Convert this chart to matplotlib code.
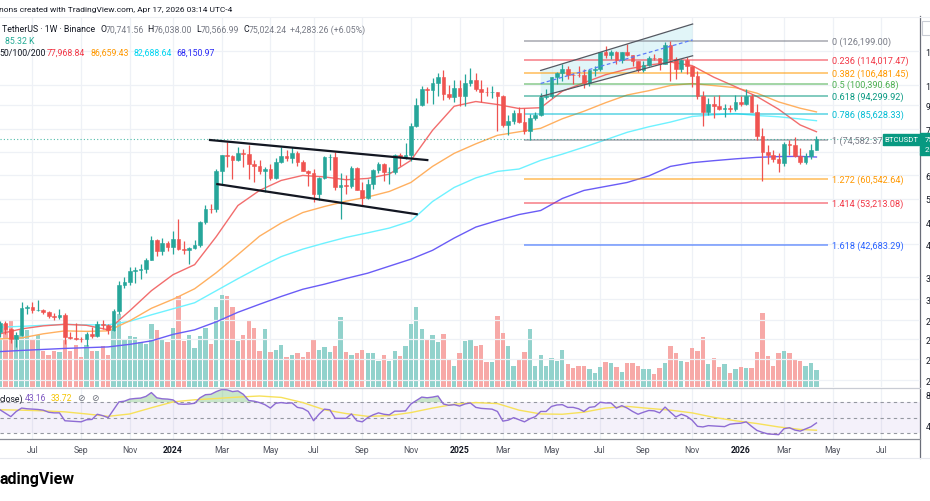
import numpy as np
import pandas as pd
import matplotlib
matplotlib.use("Agg")
import matplotlib.pyplot as plt
from matplotlib.patches import Rectangle, Polygon
from matplotlib.lines import Line2D
from matplotlib.ticker import FixedLocator, NullLocator

plt.rcParams['font.family'] = ['Roboto', 'DejaVu Sans']

# ---------------- data (weekly BTCUSDT, prices in thousand USD) ----------------
FIRST_BAR = "2023-05-22"
REF_WEEK = "2024-01-01"

opens = [26.85, 28.08, 27.23, 25.84, 26.34, 30.46, 30.58, 30.16, 30.23, 29.85,
         29.23, 29.05, 29.40, 26.10, 26.00, 25.84, 25.83, 26.53, 26.25, 27.97,
         27.92, 27.15, 29.99, 34.50, 35.00, 37.06, 37.36, 37.45, 39.47, 43.79,
         41.37, 43.02, 42.28, 43.95, 41.73, 41.58, 42.03, 42.58, 48.30, 51.66,
         51.56, 63.11, 68.96, 68.39, 67.21, 69.65, 69.36, 65.74, 64.94, 63.12,
         63.90, 60.80, 66.27, 68.50, 67.76, 69.65, 66.20, 63.25, 62.70, 55.86,
         60.79, 68.16, 68.25, 58.16, 58.70, 58.43, 64.20, 57.30, 54.85, 59.15,
         63.60, 65.60, 62.85, 62.87, 69.00, 68.00, 68.78, 80.37, 89.85, 97.90,
         97.20, 101.10, 104.46, 95.20, 93.70, 98.30, 94.50, 101.30, 102.60, 97.70,
         96.46, 96.10, 96.25, 94.27, 80.70, 82.60, 86.10, 82.30, 78.35, 83.70,
         85.10, 93.70, 94.30, 104.10, 106.45, 109.00, 105.70, 105.60, 105.55, 100.95,
         108.35, 109.20, 119.05, 117.30, 119.45, 114.20, 119.30, 117.40, 113.50, 108.25,
         111.15, 115.30, 115.25, 112.10, 123.50, 115.17, 108.64, 114.57, 110.54, 104.72,
         94.24, 86.83, 90.39, 89.40, 88.20, 88.60, 87.80, 91.20, 90.60, 94.20,
         86.80, 76.40, 70.10, 68.80, 67.60, 65.90, 73.00, 72.60, 68.60, 66.30,
         68.70, 70.74]
highs = [28.45, 28.45, 27.40, 26.80, 31.43, 31.00, 31.50, 31.80, 30.40, 29.95,
         29.75, 30.25, 29.70, 26.80, 28.14, 26.10, 26.85, 27.48, 28.50, 28.60,
         28.00, 30.40, 35.20, 35.98, 37.98, 38.00, 38.45, 39.70, 44.70, 44.00,
         44.30, 43.60, 45.88, 48.97, 43.58, 42.20, 43.88, 48.59, 52.82, 52.99,
         63.91, 69.00, 73.78, 68.92, 71.77, 71.30, 72.80, 67.20, 67.25, 64.73,
         65.50, 67.70, 71.98, 70.60, 71.99, 70.20, 67.20, 63.50, 63.85, 61.40,
         68.40, 69.40, 70.08, 62.75, 61.80, 65.00, 64.50, 59.80, 60.65, 64.10,
         66.50, 66.00, 64.48, 69.40, 69.50, 73.60, 81.50, 93.40, 99.60, 98.80,
         104.00, 106.50, 108.35, 99.95, 102.70, 102.50, 106.00, 109.60, 106.50, 102.50,
         99.00, 99.50, 96.50, 95.00, 85.30, 87.45, 88.77, 88.50, 85.90, 86.45,
         95.80, 97.90, 104.30, 107.10, 111.98, 110.70, 106.80, 110.60, 108.90, 108.50,
         110.50, 119.50, 123.20, 120.25, 119.80, 119.40, 124.50, 117.60, 113.60, 113.40,
         116.80, 117.90, 115.40, 125.70, 126.20, 115.97, 114.70, 116.40, 110.80, 107.50,
         96.65, 93.10, 94.15, 94.60, 90.40, 90.00, 94.80, 94.50, 97.90, 95.50,
         90.50, 79.40, 72.50, 70.90, 69.50, 74.00, 74.50, 76.00, 71.50, 69.50,
         73.00, 76.04]
lows = [26.10, 26.50, 25.35, 24.80, 26.25, 29.50, 29.70, 29.95, 29.50, 28.90,
        28.58, 28.75, 25.16, 25.80, 25.70, 25.38, 24.90, 26.00, 26.10, 27.20,
        26.50, 26.90, 29.60, 34.00, 34.50, 34.80, 35.63, 36.70, 39.30, 40.20,
        40.50, 41.30, 40.75, 41.50, 40.60, 38.55, 41.80, 42.26, 47.71, 50.52,
        50.90, 59.00, 64.53, 60.76, 66.80, 64.50, 60.66, 59.60, 62.40, 56.55,
        60.20, 60.60, 66.10, 66.60, 66.00, 65.08, 63.10, 58.40, 53.50, 54.25,
        60.65, 63.45, 57.12, 49.00, 56.10, 57.80, 57.20, 52.55, 54.60, 57.50,
        62.70, 59.83, 58.90, 62.40, 65.08, 67.45, 66.80, 80.00, 89.40, 90.80,
        90.50, 94.10, 92.20, 92.80, 91.20, 89.30, 89.25, 99.50, 97.00, 91.20,
        94.10, 93.40, 78.30, 80.00, 76.60, 81.10, 81.60, 77.10, 74.50, 83.10,
        85.00, 92.80, 93.40, 100.70, 102.00, 103.10, 100.40, 104.10, 98.20, 99.60,
        105.15, 107.50, 115.70, 114.70, 111.90, 112.65, 116.80, 110.60, 107.30, 107.25,
        110.60, 114.40, 108.60, 111.60, 102.00, 103.53, 106.95, 106.30, 98.95, 93.00,
        80.60, 85.30, 83.82, 87.60, 84.50, 86.60, 87.00, 89.30, 89.80, 86.50,
        74.50, 60.10, 65.80, 66.50, 62.90, 65.00, 69.00, 68.00, 65.70, 65.50,
        67.50, 70.57]
closes = [28.08, 27.23, 25.84, 26.34, 30.46, 30.58, 30.16, 30.23, 29.85, 29.23,
          29.05, 29.40, 26.10, 26.00, 25.84, 25.83, 26.53, 26.25, 27.97, 27.92,
          27.15, 29.99, 34.50, 35.00, 37.06, 37.36, 37.45, 39.47, 43.79, 41.37,
          43.02, 42.28, 43.95, 41.73, 41.58, 42.03, 42.58, 48.30, 51.66, 51.56,
          63.11, 68.96, 68.39, 67.21, 69.65, 69.36, 65.74, 64.94, 63.12, 63.90,
          60.80, 66.27, 68.50, 67.76, 69.65, 66.20, 63.25, 62.70, 55.86, 60.79,
          68.16, 68.25, 58.16, 58.70, 58.43, 64.20, 57.30, 54.85, 59.15, 63.60,
          65.60, 62.85, 62.87, 69.00, 68.00, 68.78, 80.37, 89.85, 97.90, 97.20,
          101.10, 104.46, 95.20, 93.70, 98.30, 94.50, 101.30, 102.60, 97.70, 96.46,
          96.10, 96.25, 94.27, 80.70, 82.60, 86.10, 82.30, 78.35, 83.70, 85.10,
          93.70, 94.30, 104.10, 106.45, 109.00, 105.70, 105.60, 105.55, 100.95, 108.35,
          109.20, 119.05, 117.30, 119.45, 114.20, 119.30, 117.40, 113.50, 108.25, 111.15,
          115.30, 115.25, 112.10, 123.50, 115.17, 108.64, 114.57, 110.54, 104.72, 94.24,
          86.83, 90.39, 89.40, 88.20, 88.60, 87.80, 91.20, 90.60, 94.20, 86.80,
          76.40, 70.10, 68.80, 67.60, 65.90, 73.00, 72.60, 68.60, 66.30, 68.70,
          70.74, 75.02]
volumes_k = [231, 304, 323, 251, 275, 275, 231, 255, 174, 159,
             178, 169, 227, 178, 207, 149, 207, 178, 178, 202,
             159, 275, 352, 231, 246, 241, 217, 212, 308, 275,
             231, 217, 289, 439, 222, 255, 188, 246, 289, 212,
             390, 448, 443, 386, 222, 255, 323, 289, 174, 280,
             169, 183, 207, 149, 159, 164, 149, 169, 236, 183,
             193, 169, 202, 342, 169, 159, 164, 183, 164, 164,
             130, 159, 130, 174, 154, 198, 304, 386, 284, 227,
             251, 217, 260, 135, 106, 164, 222, 236, 202, 207,
             121, 125, 347, 265, 198, 106, 135, 169, 280, 106,
             159, 106, 140, 130, 183, 111, 92, 106, 106, 87,
             72, 101, 125, 116, 101, 77, 116, 116, 106, 87,
             87, 67, 92, 116, 202, 164, 130, 121, 188, 178,
             241, 111, 140, 101, 111, 72, 87, 101, 96, 96,
             169, 357, 154, 106, 164, 174, 164, 135, 130, 106,
             116, 85.32]
rsi = [60.2, 55.7, 51.3, 58.0, 62.4, 61.5, 61.0, 60.6, 59.7, 57.0,
       56.2, 56.2, 46.0, 45.5, 45.0, 44.6, 47.3, 47.7, 54.4, 52.6,
       50.0, 60.2, 70.4, 71.3, 74.0, 74.8, 75.3, 77.5, 82.4, 75.7,
       74.4, 74.0, 73.0, 67.7, 67.3, 67.7, 68.6, 75.7, 79.7, 80.2,
       83.7, 86.4, 86.0, 83.7, 84.6, 80.2, 72.2, 71.3, 69.5, 66.8,
       62.4, 68.6, 69.5, 68.6, 69.1, 63.3, 62.0, 58.0, 46.0, 54.4,
       61.0, 60.2, 49.1, 49.1, 49.1, 54.8, 46.0, 44.6, 50.0, 53.6,
       56.2, 54.4, 53.6, 58.4, 58.4, 58.8, 67.7, 72.2, 76.6, 75.7,
       76.6, 78.0, 67.7, 66.0, 66.8, 65.0, 67.7, 69.0, 63.3, 62.0,
       61.5, 61.0, 58.0, 45.5, 46.8, 50.0, 47.3, 44.6, 48.6, 51.3,
       58.0, 58.0, 64.5, 66.4, 66.8, 63.3, 63.3, 61.5, 58.0, 63.3,
       64.2, 70.0, 69.0, 69.0, 62.4, 65.5, 62.4, 58.0, 54.4, 57.0,
       59.3, 58.8, 56.2, 63.7, 57.0, 50.9, 54.4, 51.8, 46.8, 38.8,
       38.0, 39.7, 39.3, 38.8, 38.4, 41.5, 42.4, 42.8, 44.6, 38.8,
       33.5, 31.0, 29.0, 28.5, 28.0, 35.7, 37.0, 34.0, 32.6, 35.5,
       38.3, 43.16]

# moving averages / RSI-MA, read every 4th bar (+ last bar)
ma_bars = list(range(0, 152, 4)) + [151]
ma20 = [26.57, 27.28, 27.72, 27.95, 27.80, 27.14, 30.04, 33.43, 36.41, 38.41,
        44.60, 52.63, 57.03, 60.15, 61.79, 61.29, 60.38, 60.80, 62.22, 66.94,
        78.57, 89.32, 91.59, 90.14, 88.23, 88.61, 96.77, 101.23, 105.64, 108.84,
        111.20, 112.99, 110.91, 104.29, 99.13, 94.07, 87.90, 80.83, 77.97]
ma50 = [25.86, 26.00, 26.57, 26.99, 26.92, 26.99, 28.48, 30.44, 31.94, 33.78,
        36.80, 40.51, 44.70, 47.94, 50.70, 52.35, 53.86, 55.08, 56.72, 59.51,
        64.83, 69.49, 73.10, 76.50, 77.95, 79.42, 83.55, 86.97, 91.01, 94.83,
        97.03, 99.77, 100.79, 99.72, 98.60, 95.75, 91.40, 88.37, 86.66]
ma100 = [27.53, 27.65, 27.80, 27.95, 27.87, 27.87, 28.40, 29.40, 30.36, 31.35,
         33.43, 35.64, 37.90, 40.08, 41.72, 43.08, 44.41, 45.50, 46.67, 48.45,
         53.77, 57.95, 60.96, 63.12, 63.93, 66.94, 69.20, 71.83, 74.69, 77.74,
         80.06, 82.09, 84.58, 85.35, 85.90, 84.99, 84.45, 83.46, 82.69]
ma200 = [24.17, 24.32, 24.45, 24.58, 24.68, 24.78, 25.12, 25.59, 26.49, 27.14,
         28.32, 29.80, 31.10, 32.42, 33.69, 34.61, 35.68, 36.70, 38.10, 39.55,
         41.46, 44.25, 46.92, 48.58, 50.16, 51.25, 54.64, 57.03, 58.26, 59.51,
         61.62, 64.83, 66.12, 66.83, 67.48, 68.02, 68.31, 68.38, 68.15]
rsi_ma = [60.2, 59.7, 58.8, 57.5, 54.8, 51.7, 54.8, 62.8, 70.4, 73.1,
          74.8, 76.6, 78.0, 76.2, 69.5, 60.2, 55.3, 51.7, 52.6, 56.6,
          62.4, 67.3, 69.5, 68.2, 59.7, 54.8, 54.4, 57.1, 62.4, 64.6,
          62.0, 59.7, 56.2, 50.4, 46.0, 42.4, 38.0, 34.8, 33.72]

fib_ratios = ["0", "0.236", "0.382", "0.5", "0.618", "0.786", "1", "1.272", "1.414", "1.618"]
fib_prices = [126199.00, 114017.47, 106481.45, 100390.68, 94299.92, 85628.33,
              74582.37, 60542.64, 53213.08, 42683.29]
fib_colors = ["#787B86", "#F23645", "#FF9800", "#4CAF50", "#089981", "#00BCD4",
              "#787B86", "#FF9800", "#F23645", "#2962FF"]

# price scale grid; the 70,000 label sits behind the last-price box
price_ticks = [120000, 100000, 90000, 79000, 70000, 62000, 54600, 48200, 42900,
               36000, 32000, 28600, 25800, 23200, 20800]
hidden_tick_labels = [70000]

# ---------------- layout helpers ----------------
W, H = 930, 502
fig = plt.figure(figsize=(9.3, 5.02), dpi=100)
fig.patch.set_facecolor("white")


def fy(y):
    return 1 - y / H


def T(x, y, s, **kw):
    kw.setdefault("va", "center")
    kw.setdefault("ha", "left")
    return fig.text(x / W, fy(y), s, **kw)


def hline_px(y, x0, x1, color, lw=0.8):
    fig.add_artist(Line2D([x0 / W, x1 / W], [fy(y), fy(y)], color=color, lw=lw))


PANE_R = 919.5
ax_top, ax_bot, rsi_bot = 19.0, 388.5, 440.0
ax = fig.add_axes([0, fy(ax_bot), PANE_R / W, fy(ax_top) - fy(ax_bot)])
axv = ax.twinx()
axr = fig.add_axes([0, fy(rsi_bot), PANE_R / W, fy(ax_bot) - fy(rsi_bot)], sharex=ax)

ax.set_zorder(2)
axv.set_zorder(1)
ax.patch.set_visible(False)

n = len(closes)
dates = pd.date_range(FIRST_BAR, periods=n, freq="7D")
wk = ((dates - pd.Timestamp(REF_WEEK)).days // 7).to_numpy()
o, h, l, c = (np.array(v) for v in (opens, highs, lows, closes))
up = c >= o
UP, DN = "#26A69A", "#EF5350"
cols = np.where(up, UP, DN)

# time ticks: first weekly bar of every odd month
ext = pd.date_range(FIRST_BAR, "2026-08-31", freq="7D")
tick_w, tick_lab, tick_bold = [], [], []
for d in ext:
    if d.month % 2 == 1 and d.day <= 7:
        tick_w.append((d - pd.Timestamp(REF_WEEK)).days // 7)
        tick_lab.append(str(d.year) if d.month == 1 else d.strftime("%b"))
        tick_bold.append(d.month == 1)

XMIN, XMAX = -32.0, 138.06
ax.set_xlim(XMIN, XMAX)

GRID = "#EEF1F6"
for a in (axv, axr):
    for t in tick_w:
        a.axvline(t, color=GRID, lw=0.9, zorder=0)

# ---------------- volume ----------------
axv.bar(wk, volumes_k, width=0.8, color=np.where(up, "#92D2CC", "#F7A9A7"), linewidth=0, zorder=1)
axv.set_ylim(0, (ax_bot - ax_top) * 4.82)
axv.axis("off")

# ---------------- price pane ----------------
ax.set_yscale("log")
ax.set_ylim(19.961, 142.92)
for p in price_ticks:
    ax.axhline(p / 1000, color=GRID, lw=0.9, zorder=0)

# moving averages
ma_x = wk[ma_bars]
ax.plot(ma_x, ma200, color="#6A5CF6", lw=1.0, zorder=2)
ax.plot(ma_x, ma100, color="#6EF2FF", lw=1.0, zorder=2)
ax.plot(ma_x, ma50, color="#FFB060", lw=1.0, zorder=2)
ax.plot(ma_x, ma20, color="#F26D6D", lw=1.0, zorder=2)

# fib retracement
fib_x0, fib_x1 = 64.9, 121.1
for r, p, col in zip(fib_ratios, fib_prices, fib_colors):
    ax.hlines(p / 1000, fib_x0, fib_x1, colors=col, lw=1.2, alpha=0.6, zorder=2)
    ax.text(121.9, p / 1000, f"{r} ({p:,.2f})", color=col, fontsize=6.6, va="center", ha="left", zorder=6)

# rising channel 2025 (drawing)
ch_x = [68.0, 96.1]
ch_up = [108.09, 138.41]
ch_lo = [94.07, 116.86]
ch_mid = [100.83, 127.18]
ax.add_patch(Polygon([(ch_x[0], ch_lo[0]), (ch_x[0], ch_up[0]), (ch_x[1], ch_up[1]), (ch_x[1], ch_lo[1])],
                     closed=True, facecolor="#BEEBF0", alpha=0.45, edgecolor="none", zorder=1))
ax.plot(ch_x, ch_up, color="#555861", lw=0.9, zorder=5)
ax.plot(ch_x, ch_lo, color="#555861", lw=0.9, zorder=5)
ax.plot(ch_x, ch_mid, color="#5B7CFA", lw=0.9, ls=(0, (3, 2)), zorder=5)

# descending channel 2024 (drawing)
ax.plot([6.84, 47.03], [74.61, 67.05], color="#131722", lw=1.6, zorder=5)
ax.plot([8.19, 45.07], [58.99, 50.25], color="#131722", lw=1.6, zorder=5)

# current price line
ax.axhline(c[-1], color="#22AB94", lw=0.8, ls=(0, (1, 2)), alpha=0.8, zorder=2)

# candles
ax.vlines(wk, l, h, colors=cols, lw=0.9, zorder=3)
ax.bar(wk, np.maximum(o, c) - np.minimum(o, c), bottom=np.minimum(o, c), width=0.68,
       color=cols, edgecolor=cols, linewidth=0.4, zorder=4)

ax.yaxis.set_major_locator(FixedLocator([p / 1000 for p in price_ticks]))
ax.yaxis.set_minor_locator(NullLocator())
ax.set_yticklabels(["" if p in hidden_tick_labels else f"{p:,.2f}" for p in price_ticks])
ax.yaxis.tick_right()
ax.tick_params(axis="y", length=0, pad=4.3, labelsize=6.3, labelcolor="#131722")
ax.tick_params(axis="x", length=0, labelbottom=False)
for s in ax.spines.values():
    s.set_visible(False)

# ---------------- RSI pane ----------------
rs = np.array(rsi)
axr.set_ylim(22.4, 89.0)
axr.axhspan(30, 70, color="#7E57C2", alpha=0.08, lw=0, zorder=0)
for lev in (70, 50, 30):
    axr.axhline(lev, color="#9598A1", lw=0.8, ls=(0, (3, 3)), zorder=1)
axr.fill_between(wk, 70, rs, where=rs > 70, interpolate=True, color="#4CAF50", alpha=0.3, lw=0, zorder=2)
axr.fill_between(wk, 30, rs, where=rs < 30, interpolate=True, color="#F44336", alpha=0.25, lw=0, zorder=2)
axr.plot(wk[ma_bars], rsi_ma, color="#F7E15A", lw=1.0, zorder=3)
axr.plot(wk, rs, color="#8E6CD4", lw=1.0, zorder=4)
axr.set_yticks([40, 80])
axr.yaxis.tick_right()
axr.tick_params(axis="y", length=0, pad=4.3, labelsize=6.3, labelcolor="#131722")
axr.set_xticks(tick_w)
axr.set_xticklabels(tick_lab)
for lab, b in zip(axr.get_xticklabels(), tick_bold):
    lab.set_fontweight("bold" if b else "normal")
    lab.set_color("#131722" if b else "#50535E")
axr.tick_params(axis="x", length=0, pad=4.5, labelsize=6.2)
for s in axr.spines.values():
    s.set_visible(False)
ax.set_xlim(XMIN, XMAX)

# ---------------- frame lines ----------------
fig.add_artist(Line2D([PANE_R / W, PANE_R / W], [fy(17), fy(459)], color="#6A6D78", lw=0.9))
hline_px(ax_bot, 0, PANE_R, "#C9CCD4", 0.9)
hline_px(rsi_bot, 0, PANE_R, "#8A8D96", 0.9)
hline_px(459, 0, W, "#E6E8EE", 0.8)
hline_px(17.5, 0, W, "#EEF0F4", 0.8)

# price labels on axis
fig.add_artist(Rectangle((882.7 / W, fy(145.5)), 36.5 / W, 11 / H, color="#089981", zorder=10))
T(900.9, 140.0, "BTCUSDT", color="white", fontsize=5.6, ha="center", zorder=11)
fig.add_artist(Rectangle((920.3 / W, fy(156)), 12 / W, 22 / H, color="#089981", zorder=10))
T(925.0, 139.0, "75,024.24", color="white", fontsize=5.8, zorder=11)
T(925.0, 150.5, "2d 20h", color="white", fontsize=5.8, zorder=11)
fig.add_artist(Rectangle((921.5 / W, fy(36)), 12 / W, 14 / H, facecolor="white", edgecolor="#C9CCD4", lw=0.8, zorder=10))

# ---------------- header texts ----------------
T(-0.5, 10, "nons created with TradingView.com, Apr 17, 2026 03:14 UTC-4", fontsize=6.0, color="#131722")
T(2, 30, "TetherUS · 1W · Binance", fontsize=6.3, color="#131722")
ohlc_parts = [(100, 106, "O", "70,741.56"), (147.7, 153.3, "H", "76,038.00"),
              (196, 200.3, "L", "70,566.99"), (243.7, 248.8, "C", "75,024.24")]
for xk, xv, k, v in ohlc_parts:
    T(xk, 30, k, fontsize=6.3, color="#131722")
    T(xv, 30, v, fontsize=6.3, color="#787B86")
T(290, 30, "+4,283.26 (+6.05%)", fontsize=6.3, color="#787B86")
T(5, 42, "85.32 K", fontsize=6.3, color="#22AB94")
T(-0.5, 53.5, "50/100/200", fontsize=6.3, color="#131722")
T(47, 53.5, "77,968.84", fontsize=6.3, color="#F23645")
T(90, 53.5, "86,659.43", fontsize=6.3, color="#FF9800")
T(133, 53.5, "82,688.64", fontsize=6.3, color="#00D5F0")
T(176, 53.5, "68,150.97", fontsize=6.3, color="#2A2AF5")

T(-0.5, 399, "close)", fontsize=6.2, color="#131722")
T(25, 399, "43.16", fontsize=6.2, color="#7E57C2")
T(51, 399, "33.72", fontsize=6.2, color="#F5C400")
T(77.5, 399, "\u2298", fontsize=6.5, color="#6A6D78", family=["DejaVu Sans"])
T(91.5, 399, "\u2298", fontsize=6.5, color="#6A6D78", family=["DejaVu Sans"])

T(-0.5, 480, "adingView", fontsize=11.5, color="#000000", fontweight="bold")

fig.savefig("out.png", dpi=100, facecolor="white")
